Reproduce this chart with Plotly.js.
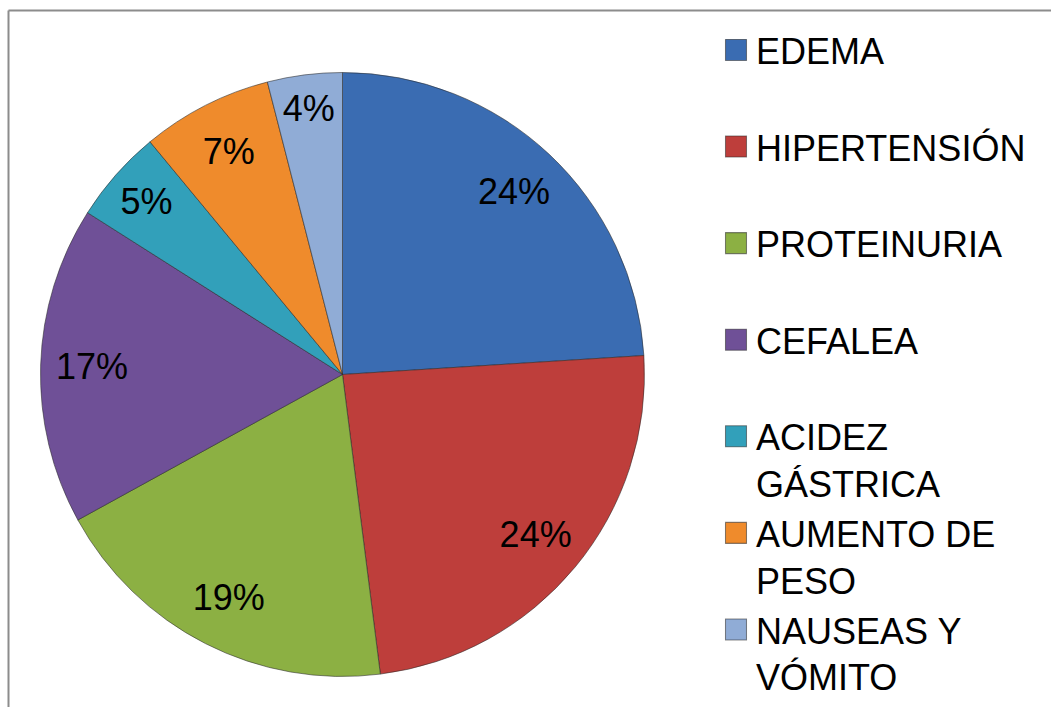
<!DOCTYPE html>
<html>
<head>
<meta charset="utf-8">
<script src="https://cdn.plot.ly/plotly-3.0.1.min.js"></script>
<style>
html,body{margin:0;padding:0;background:#fff;}
#chart{width:1051px;height:707px;}
</style>
</head>
<body>
<div id="chart"></div>
<script>
const categories = ["EDEMA", "HIPERTENSIÓN", "PROTEINURIA", "CEFALEA", "ACIDEZ GÁSTRICA", "AUMENTO DE PESO", "NAUSEAS Y VÓMITO"];
const legendLabels = ["EDEMA<br> ", "HIPERTENSIÓN<br> ", "PROTEINURIA<br> ", "CEFALEA<br> ", "ACIDEZ<br>GÁSTRICA", "AUMENTO DE<br>PESO", "NAUSEAS Y<br>VÓMITO"];
const percentages = [24, 24, 19, 17, 5, 7, 4];
const colors = ["#3a6cb2", "#be3e3b", "#8cb043", "#6f5097", "#32a0ba", "#ef8b2c", "#90acd6"];

const W = 1051, H = 707;
const cx = 342.5, cy = 374.5, R = 302;
const domain = { x: [(cx - R) / W, (cx + R) / W], y: [(H - cy - R) / H, (H - cy + R) / H] };
const labelFont = { family: "Liberation Sans, Arial, sans-serif", size: 36, color: "#000" };

const slices = {
  type: "pie",
  labels: legendLabels,
  values: percentages,
  customdata: categories,
  sort: false,
  direction: "clockwise",
  rotation: 0,
  marker: { colors: colors, line: { color: "rgba(40,40,40,0.55)", width: 1 } },
  textinfo: "none",
  hovertemplate: "%{customdata}: %{percent}<extra></extra>",
  domain: domain
};

// transparent ring carrying the percentage labels near the outer edge
const labelRing = {
  type: "pie",
  labels: legendLabels,
  values: percentages,
  sort: false,
  direction: "clockwise",
  rotation: 0,
  hole: 0.66,
  showlegend: false,
  hoverinfo: "skip",
  marker: { colors: colors.map(function () { return "rgba(0,0,0,0)"; }), line: { width: 0 } },
  texttemplate: "%{percent:.0%}",
  textposition: "inside",
  insidetextorientation: "horizontal",
  insidetextfont: labelFont,
  domain: domain
};

const layout = {
  width: W, height: H,
  margin: { l: 0, r: 0, t: 0, b: 0 },
  paper_bgcolor: "#fff",
  showlegend: true,
  legend: {
    x: 716 / W, y: 1 - 30 / H, xanchor: "left", yanchor: "top",
    font: { family: "Liberation Sans, Arial, sans-serif", size: 36, color: "#000" },
    valign: "top", itemclick: false, itemdoubleclick: false,
    bgcolor: "rgba(0,0,0,0)"
  },
  shapes: [
    { type: "line", xref: "paper", yref: "paper", x0: 8.5 / W, x1: 1, y0: 1 - 10.5 / H, y1: 1 - 10.5 / H, line: { color: "#8c8c8c", width: 2 } },
    { type: "line", xref: "paper", yref: "paper", x0: 8.5 / W, x1: 8.5 / W, y0: 0, y1: 1 - 10.5 / H, line: { color: "#8c8c8c", width: 2 } }
  ]
};

Plotly.newPlot("chart", [slices, labelRing], layout, { displayModeBar: false }).then(function () {
  document.querySelectorAll("#chart .legendpoints path").forEach(function (p) {
    var t = p.getAttribute("transform") || "";
    p.setAttribute("transform", t + " scale(1.75)");
    p.style.strokeWidth = "0.6px";
  });
});
</script>
</body>
</html>
